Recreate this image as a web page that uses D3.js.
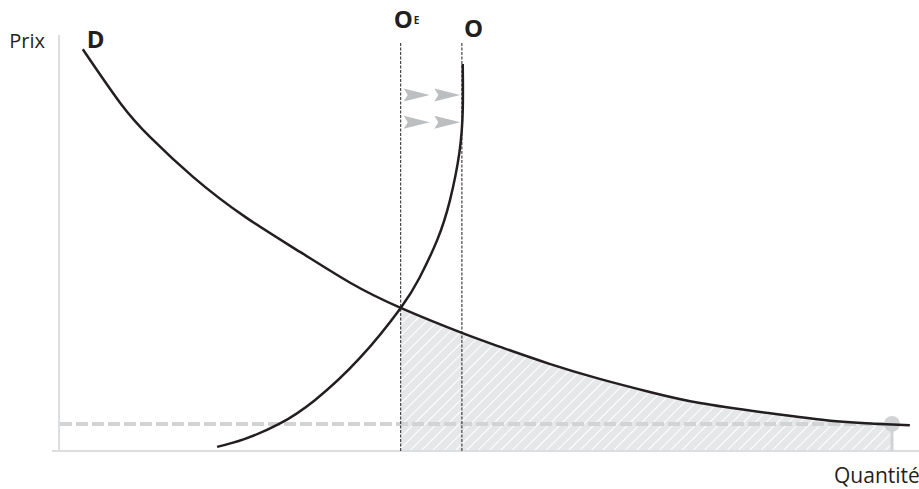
<!DOCTYPE html>
<html lang="fr">
<head>
<meta charset="utf-8">
<script src="https://cdn.jsdelivr.net/npm/d3@7"></script>
<style>
  html, body { margin: 0; padding: 0; background: #fff; }
  svg { display: block; font-family: "Open Sans", "Noto Sans", sans-serif; }
</style>
</head>
<body>
<svg id="chart" width="919" height="489"></svg>
<script>
// Demand curve D (quantity, price)
const demandQ = [2.8, 7.2, 10.7, 15.8, 21.9, 28.4, 34.2, 40.2, 47.4, 51.9, 57.8, 63.6, 69.5, 75.4, 83.3, 91.1, 96.6, 100.1];
const demandP = [98.0, 84.9, 76.6, 66.8, 57.1, 48.5, 41.1, 34.9, 28.8, 25.4, 21.2, 17.6, 14.4, 11.7, 9.3, 7.3, 6.6, 6.3];

// Supply curve O (quantity, price)
const supplyQ = [18.6, 21.8, 25.9, 30.1, 35.4, 40.2, 42.4, 44.5, 46.0, 47.1, 47.5, 47.5];
const supplyP = [1.0, 2.9, 6.6, 12.4, 22.7, 34.9, 42.2, 51.5, 61.2, 72.7, 83.2, 94.4];

// Quantity levels: OE (equilibrium) and O (shifted supply)
const shiftNames = ["OE", "O"];
const shiftQ = [40.2, 47.4];

// Price floor (dashed line) and the point where it meets demand
const floorPrice = 6.6;
const floorQ = 98.0;

// Arrow rows (price levels) showing the shift from OE to O
const arrowP = [86.8, 80.2];

const svg = d3.select("#chart");
const W = 919, H = 489;

const x = d3.scaleLinear().domain([0, 100]).range([59, 909]);
const y = d3.scaleLinear().domain([0, 100]).range([451, 41]);

const ink = "#231f20";
const axisGrey = "#dcddde";
const lightGrey = "#d1d3d4";

// Hatch pattern for the surplus area
const defs = svg.append("defs");
const pat = defs.append("pattern")
  .attr("id", "hatch")
  .attr("patternUnits", "userSpaceOnUse")
  .attr("width", 8).attr("height", 8)
  .attr("patternTransform", "rotate(45)");
pat.append("rect").attr("width", 8).attr("height", 8).attr("fill", "#e6e7e8");
pat.append("line").attr("x1", 0).attr("y1", 0).attr("x2", 0).attr("y2", 8)
  .attr("stroke", "#fff").attr("stroke-width", 2);

defs.append("clipPath").attr("id", "areaClip")
  .append("rect")
  .attr("x", x(shiftQ[0])).attr("y", 0)
  .attr("width", x(floorQ) - x(shiftQ[0])).attr("height", H);

const demand = demandQ.map((q, i) => [q, demandP[i]]);
const supply = supplyQ.map((q, i) => [q, supplyP[i]]);
const smooth = d3.curveNatural;

// Area under demand between OE and the floor point
const area = d3.area()
  .x(d => x(d[0]))
  .y0(y(0))
  .y1(d => y(d[1]))
  .curve(smooth);
svg.append("path")
  .datum(demand)
  .attr("d", area)
  .attr("fill", "url(#hatch)")
  .attr("clip-path", "url(#areaClip)");

// Axes (plain lines, no ticks)
svg.append("line")
  .attr("x1", x(0)).attr("x2", x(0))
  .attr("y1", 35).attr("y2", y(0))
  .attr("stroke", axisGrey).attr("stroke-width", 2);
svg.append("line")
  .attr("x1", 52).attr("x2", W)
  .attr("y1", y(0)).attr("y2", y(0))
  .attr("stroke", axisGrey).attr("stroke-width", 2);

// Floor price dashed line
svg.append("line")
  .attr("x1", x(0) + 1).attr("x2", x(floorQ))
  .attr("y1", y(floorPrice)).attr("y2", y(floorPrice))
  .attr("stroke", lightGrey).attr("stroke-width", 4)
  .attr("stroke-dasharray", "12,4");

// Stub from the floor point down to the axis
svg.append("line")
  .attr("x1", x(floorQ)).attr("x2", x(floorQ))
  .attr("y1", y(floorPrice)).attr("y2", y(0))
  .attr("stroke", lightGrey).attr("stroke-width", 3);
svg.append("circle")
  .attr("cx", x(floorQ)).attr("cy", y(floorPrice))
  .attr("r", 8).attr("fill", lightGrey);

// Vertical dashed lines at OE and O
svg.selectAll("line.shift")
  .data(shiftQ)
  .join("line")
  .attr("class", "shift")
  .attr("x1", d => x(d)).attr("x2", d => x(d))
  .attr("y1", 43).attr("y2", y(0))
  .attr("stroke", ink).attr("stroke-width", 1)
  .attr("stroke-dasharray", "3,1.5");

// Arrows between OE and O
const arrowShape = "M0,-6.5 L26,0 L0,6.5 L4,0 Z";
const span = x(shiftQ[1]) - x(shiftQ[0]);
arrowP.forEach(p => {
  [0, 1].forEach(k => {
    const ax = x(shiftQ[0]) + 3 + k * (span / 2);
    svg.append("path")
      .attr("d", arrowShape)
      .attr("transform", `translate(${ax},${y(p)})`)
      .attr("fill", "#bcbec0");
  });
});

// Curves
const line = d3.line().x(d => x(d[0])).y(d => y(d[1])).curve(smooth);
svg.append("path")
  .datum(demand)
  .attr("d", line)
  .attr("fill", "none").attr("stroke", ink).attr("stroke-width", 2.5);
svg.append("path")
  .datum(supply)
  .attr("d", line)
  .attr("fill", "none").attr("stroke", ink).attr("stroke-width", 2.5);

// Labels
svg.append("text")
  .attr("x", 45).attr("y", 48)
  .attr("text-anchor", "end")
  .attr("font-size", 20).attr("fill", ink)
  .text("Prix");
svg.append("text")
  .attr("x", 834).attr("y", 483)
  .attr("font-size", 21).attr("fill", ink)
  .text("Quantité");

svg.append("text")
  .attr("x", x(demandQ[0]) + 4).attr("y", 48)
  .attr("font-size", 24).attr("font-weight", "bold").attr("fill", ink)
  .text("D");

const oe = svg.append("text")
  .attr("x", x(shiftQ[0]) - 7).attr("y", 28)
  .attr("font-size", 24).attr("font-weight", "bold").attr("fill", ink);
oe.append("tspan").text(shiftNames[0][0]);
oe.append("tspan").attr("font-size", 10).attr("dy", -4).attr("dx", 1).text(shiftNames[0][1]);

svg.append("text")
  .attr("x", x(shiftQ[1]) + 2).attr("y", 37)
  .attr("font-size", 24).attr("font-weight", "bold").attr("fill", ink)
  .text(shiftNames[1]);
</script>
</body>
</html>
